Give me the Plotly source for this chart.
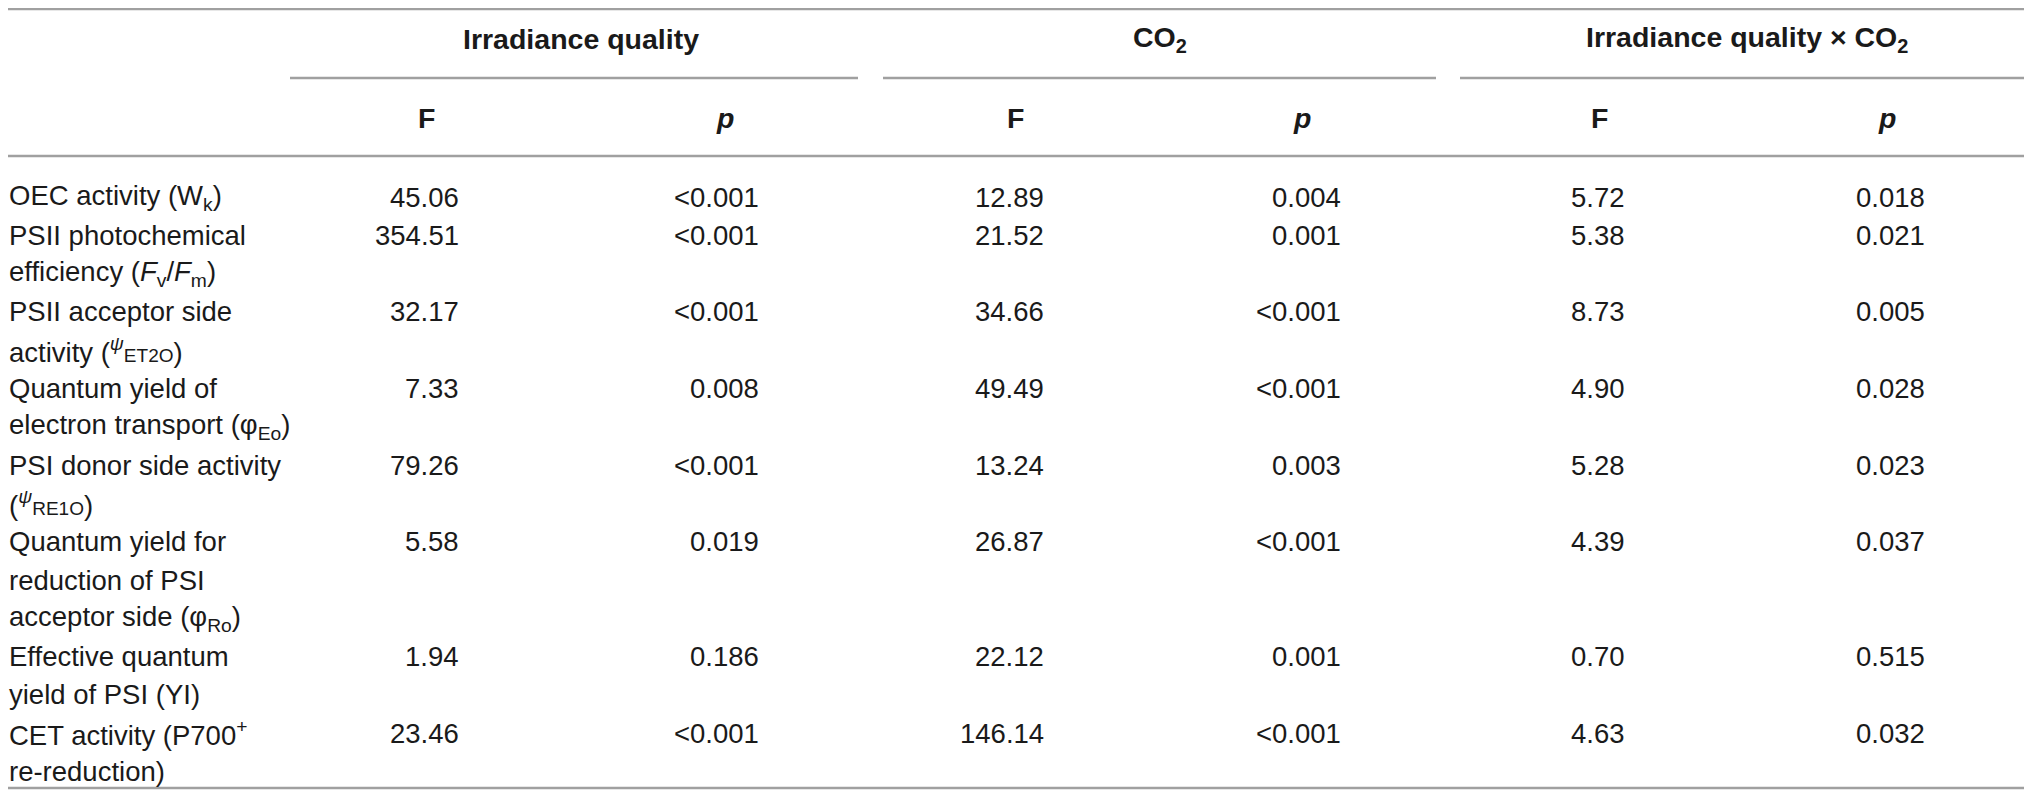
import plotly.graph_objects as go

# header text
groups = ['Irradiance quality', 'CO<sub>2</sub>', 'Irradiance quality × CO<sub>2</sub>']
sub_headers = ['F', '<i>p</i>']

# row labels, one list entry per printed line
row_labels = [
    ['OEC activity (W<sub>k</sub>)'],
    ['PSII photochemical', 'efficiency (<i>F</i><sub>v</sub>/<i>F</i><sub>m</sub>)'],
    ['PSII acceptor side', 'activity (<sup><i>ψ</i></sup><span style="font-size:19px">ET2O</span>)'],
    ['Quantum yield of', 'electron transport (φ<sub>Eo</sub>)'],
    ['PSI donor side activity', '(<sup><i>ψ</i></sup><span style="font-size:19px">RE1O</span>)'],
    ['Quantum yield for', 'reduction of PSI', 'acceptor side (φ<sub>Ro</sub>)'],
    ['Effective quantum', 'yield of PSI (YI)'],
    ['CET activity (P700<sup>+</sup>', 're-reduction)'],
]

f_irr = ['45.06', '354.51', '32.17', '7.33', '79.26', '5.58', '1.94', '23.46']
p_irr = ['<0.001', '<0.001', '<0.001', '0.008', '<0.001', '0.019', '0.186', '<0.001']
f_co2 = ['12.89', '21.52', '34.66', '49.49', '13.24', '26.87', '22.12', '146.14']
p_co2 = ['0.004', '0.001', '<0.001', '<0.001', '0.003', '<0.001', '0.001', '<0.001']
f_int = ['5.72', '5.38', '8.73', '4.90', '5.28', '4.39', '0.70', '4.63']
p_int = ['0.018', '0.021', '0.005', '0.028', '0.023', '0.037', '0.515', '0.032']

W, H = 2032, 790
OFF = 8  # the page body margin pushes the figure 8px right and down
FONT = 'Liberation Sans, Arial, sans-serif'
TXT = '#1a1a1a'
RULE = '#a0a0a0'
SIZE = 27.5
HSIZE = 28.5

# column geometry, in page pixels
group_cx = [581, 1160, 1747]
group_span = [(290, 858), (883, 1436), (1460, W)]
head_cx = [(426, 725), (1015, 1302), (1599, 1887)]
value_rx = [(460, 760), (1045, 1342), (1626, 1926)]
y_group, y_span, y_sub, y_head_rule = 39, 78, 118, 156
y_first, step = 197, 38.3
label_x = OFF

fig = go.Figure()
ann = []


def add_text(x, y, text, anchor='left', bold=False):
    ann.append(dict(x=x, y=y, xref='x', yref='y', text=text, showarrow=False,
                    xanchor=anchor, yanchor='middle', borderpad=0,
                    font=dict(family=FONT, size=HSIZE if bold else SIZE, color=TXT,
                              weight='bold' if bold else 'normal')))


for g, name in enumerate(groups):
    add_text(group_cx[g], y_group, name, 'center', True)
    for k, sh in enumerate(sub_headers):
        add_text(head_cx[g][k], y_sub, sh, 'center', True)
    x0, x1 = group_span[g]
    fig.add_shape(type='line', x0=x0, x1=x1, y0=y_span, y1=y_span,
                  line=dict(color=RULE, width=2.5))

for yy in [OFF + 1, y_head_rule, H - 2]:
    fig.add_shape(type='line', x0=0, x1=W, y0=yy, y1=yy,
                  line=dict(color=RULE, width=2.5))

columns = [(f_irr, p_irr), (f_co2, p_co2), (f_int, p_int)]
line = 0
for i, lines in enumerate(row_labels):
    y0 = y_first + line * step
    for j, t in enumerate(lines):
        add_text(label_x, y0 + j * step, t)
    for g, (fv, pv) in enumerate(columns):
        add_text(value_rx[g][0], y0, fv[i], 'right')
        add_text(value_rx[g][1], y0, pv[i].replace('<', '&lt;'), 'right')
    line += len(lines)

fig.update_layout(
    width=W - OFF, height=H - OFF, margin=dict(l=0, r=0, t=0, b=0),
    paper_bgcolor='white', plot_bgcolor='white',
    annotations=ann, showlegend=False,
    xaxis=dict(range=[OFF, W], visible=False, fixedrange=True),
    yaxis=dict(range=[H, OFF], visible=False, fixedrange=True),
)

fig.write_html('out.html')
